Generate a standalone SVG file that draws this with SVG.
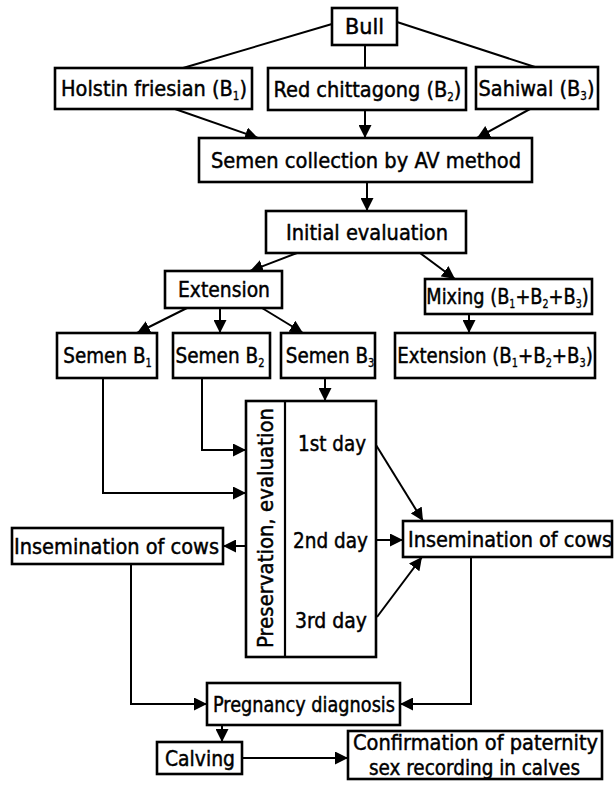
<svg xmlns="http://www.w3.org/2000/svg" width="614" height="789" viewBox="0 0 614 789">
<style>
.box{fill:#fff;stroke:#000;stroke-width:2.6}
.t{font-family:"DejaVu Sans Condensed","DejaVu Sans",sans-serif;font-size:21.5px;fill:#000;stroke:#000;stroke-width:0.45;text-anchor:middle}
.s{font-size:11.5px;stroke-width:0.3}
.c line,.c path{fill:none;stroke:#000;stroke-width:2}
.a{marker-end:url(#ah)}
</style>
<defs>
<marker id="ah" viewBox="0 0 10 10" refX="10" refY="5" markerWidth="13" markerHeight="13" markerUnits="userSpaceOnUse" orient="auto">
<path d="M0,0 L10,5 L0,10 z" fill="#000"/>
</marker>
</defs>
<g class="c" id="connectors">
<line x1="332" y1="24" x2="183" y2="68"/>
<line x1="365" y1="45" x2="365" y2="68"/>
<line x1="397" y1="22" x2="535" y2="67"/>
<line class="a" x1="175" y1="109" x2="258" y2="138"/>
<line class="a" x1="365" y1="110" x2="365" y2="138"/>
<line class="a" x1="530" y1="109" x2="477" y2="138"/>
<line class="a" x1="367" y1="182" x2="367" y2="211"/>
<line class="a" x1="297" y1="253" x2="250" y2="271"/>
<line class="a" x1="420" y1="253" x2="455" y2="279"/>
<line class="a" x1="187" y1="308" x2="137" y2="333"/>
<line class="a" x1="220" y1="308" x2="220" y2="333"/>
<line class="a" x1="262" y1="308" x2="303" y2="333"/>
<line class="a" x1="469" y1="314" x2="469" y2="333"/>
<line class="a" x1="325" y1="378" x2="325" y2="401"/>
<path class="a" d="M202,378 V450 H246"/>
<path class="a" d="M103,378 V493 H246"/>
<line class="a" x1="246" y1="546" x2="223" y2="546"/>
<line class="a" x1="376" y1="445" x2="423" y2="521"/>
<line class="a" x1="377" y1="540" x2="403" y2="540"/>
<line class="a" x1="377" y1="617" x2="422" y2="557"/>
<path class="a" d="M131,564 V704 H207"/>
<path class="a" d="M471,557 V704 H400"/>
<line class="a" x1="222" y1="725" x2="222" y2="742"/>
<line class="a" x1="242" y1="758" x2="348" y2="758"/>
</g>
<g id="bull"><rect class="box" x="332" y="8" width="65" height="37"/><text class="t" x="364.5" y="34" textLength="39" lengthAdjust="spacingAndGlyphs">Bull</text></g>
<g id="holstein"><rect class="box" x="55" y="68" width="197" height="41"/><text class="t" x="154" y="96">Holstin friesian (B<tspan class="s" dy="4">1</tspan><tspan dy="-4">)</tspan></text></g>
<g id="red"><rect class="box" x="268" y="68" width="198" height="42"/><text class="t" x="367.5" y="96.5">Red chittagong (B<tspan class="s" dy="4">2</tspan><tspan dy="-4">)</tspan></text></g>
<g id="sahiwal"><rect class="box" x="476" y="67" width="122" height="42"/><text class="t" x="536.5" y="95.5">Sahiwal (B<tspan class="s" dy="4">3</tspan><tspan dy="-4">)</tspan></text></g>
<g id="collection"><rect class="box" x="199" y="138" width="333" height="44"/><text class="t" x="366" y="167.5" textLength="310" lengthAdjust="spacingAndGlyphs">Semen collection by AV method</text></g>
<g id="initial"><rect class="box" x="266" y="211" width="200" height="42"/><text class="t" x="367" y="239.5" textLength="162" lengthAdjust="spacingAndGlyphs">Initial evaluation</text></g>
<g id="extension"><rect class="box" x="165" y="271" width="117" height="37"/><text class="t" x="224" y="297" textLength="92" lengthAdjust="spacingAndGlyphs">Extension</text></g>
<g id="mixing"><rect class="box" x="425" y="279" width="167" height="35"/><text class="t" transform="translate(507.5,304) scale(0.92,1)">Mixing (B<tspan class="s" dy="4">1</tspan><tspan dy="-4">+B</tspan><tspan class="s" dy="4">2</tspan><tspan dy="-4">+B</tspan><tspan class="s" dy="4">3</tspan><tspan dy="-4">)</tspan></text></g>
<g id="semenB1"><rect class="box" x="57" y="333" width="100" height="45"/><text class="t" transform="translate(107.5,363) scale(0.95,1)">Semen B<tspan class="s" dy="4">1</tspan></text></g>
<g id="semenB2"><rect class="box" x="173" y="333" width="97" height="45"/><text class="t" transform="translate(220,363) scale(0.955,1)">Semen B<tspan class="s" dy="4">2</tspan></text></g>
<g id="semenB3"><rect class="box" x="281" y="333" width="94" height="45"/><text class="t" transform="translate(330,363) scale(0.95,1)">Semen B<tspan class="s" dy="4">3</tspan></text></g>
<g id="extensionMix"><rect class="box" x="395" y="333" width="200" height="45"/><text class="t" transform="translate(495,363) scale(0.94,1)">Extension (B<tspan class="s" dy="4">1</tspan><tspan dy="-4">+B</tspan><tspan class="s" dy="4">2</tspan><tspan dy="-4">+B</tspan><tspan class="s" dy="4">3</tspan><tspan dy="-4">)</tspan></text></g>
<g id="preservation">
<rect class="box" x="246" y="401" width="130" height="256"/>
<line x1="285" y1="401" x2="285" y2="657" stroke="#000" stroke-width="2.2"/>
<text class="t" transform="translate(273,528) rotate(-90)" x="0" y="0" textLength="240" lengthAdjust="spacingAndGlyphs">Preservation, evaluation</text>
<text class="t" x="332" y="451" textLength="68" lengthAdjust="spacingAndGlyphs">1st day</text>
<text class="t" x="330.5" y="547.5" textLength="75" lengthAdjust="spacingAndGlyphs">2nd day</text>
<text class="t" x="331" y="627.5" textLength="72" lengthAdjust="spacingAndGlyphs">3rd day</text>
</g>
<g id="inseminationLeft"><rect class="box" x="12" y="528" width="211" height="36"/><text class="t" x="116.5" y="553.5" textLength="205" lengthAdjust="spacingAndGlyphs">Insemination of cows</text></g>
<g id="inseminationRight"><rect class="box" x="403" y="521" width="209" height="36"/><text class="t" x="510" y="546.5" textLength="204" lengthAdjust="spacingAndGlyphs">Insemination of cows</text></g>
<g id="pregnancy"><rect class="box" x="207" y="683" width="193" height="42"/><text class="t" x="304" y="711.5" textLength="182" lengthAdjust="spacingAndGlyphs">Pregnancy diagnosis</text></g>
<g id="calving"><rect class="box" x="157" y="742" width="85" height="32"/><text class="t" x="200" y="765.5" textLength="70" lengthAdjust="spacingAndGlyphs">Calving</text></g>
<g id="confirmation"><rect class="box" x="348" y="731" width="254" height="48"/><text class="t" x="475.5" y="750" textLength="245" lengthAdjust="spacingAndGlyphs">Confirmation of paternity</text><text class="t" x="474.5" y="775" textLength="211" lengthAdjust="spacingAndGlyphs">sex recording in calves</text></g>
</svg>
